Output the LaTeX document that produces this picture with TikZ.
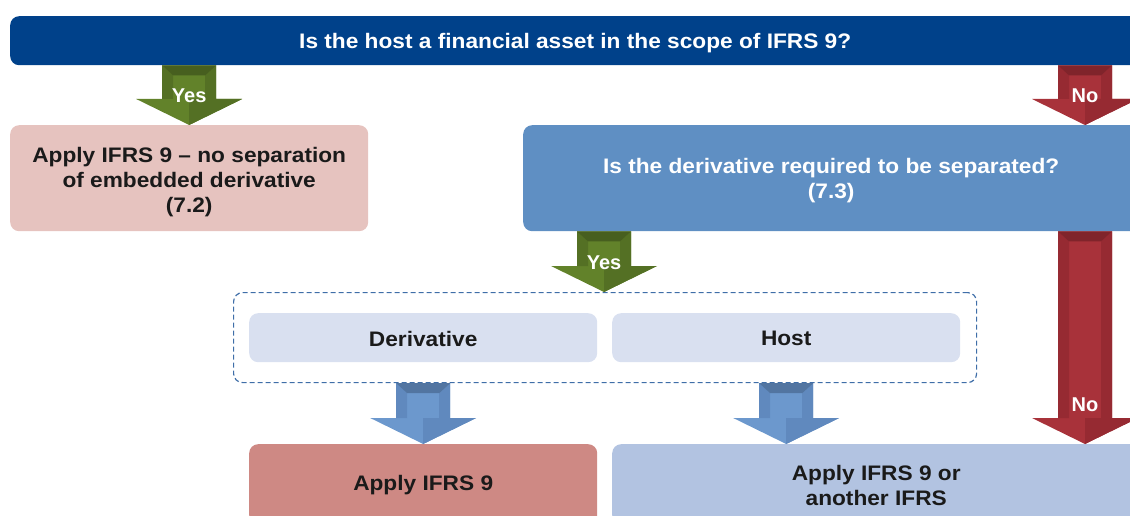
\documentclass[tikz,border=0pt]{standalone}
\usepackage{fontspec}
\setmainfont{Liberation Sans}[FakeStretch=1.08]
\newfontfamily\lblfont{Liberation Sans}
\usetikzlibrary{calc}
\definecolor{topblue}{RGB}{0,65,138}
\definecolor{qblue}{RGB}{95,143,195}
\definecolor{pinkbox}{RGB}{230,195,191}
\definecolor{redbox}{RGB}{206,137,132}
\definecolor{lightbox}{RGB}{217,224,240}
\definecolor{midbox}{RGB}{178,195,225}
\definecolor{dashblue}{RGB}{63,110,168}
\definecolor{txt}{RGB}{26,26,26}
\definecolor{gmain}{RGB}{98,130,42}
\definecolor{gdark}{RGB}{84,112,36}
\definecolor{rmain}{RGB}{168,50,58}
\definecolor{rdark}{RGB}{150,42,50}
\definecolor{bmain}{RGB}{108,152,205}
\definecolor{bdark}{RGB}{96,137,190}
% #1 main colour, #2 dark colour, #3 start, #4 tip, #5 label, #6 label lift
\newcommand\blockarr[6]{%
  \coordinate (@s) at (#3);
  \coordinate (@t) at (#4);
  \coordinate (@b) at ($(@t)+(0,-26)$);
  \coordinate (@c) at (@s |- @b);
  \fill[#1] ($(@s)+(-27,0)$) -- ($(@s)+(27,0)$) -- ($(@c)+(27,0)$) -- ($(@c)+(53,0)$)
      -- (@t) -- ($(@c)+(-53,0)$) -- ($(@c)+(-27,0)$) -- cycle;
  \fill[#2] ($(@s)+(-27,0)$) -- ($(@s)+(-16,10)$) -- ($(@c)+(-16,0)$) -- ($(@c)+(-27,0)$) -- cycle;
  \fill[#2] ($(@s)+(27,0)$) -- ($(@s)+(16,10)$) -- ($(@c)+(16,0)$) -- ($(@c)+(27,0)$) -- cycle;
  \fill[#2!85!black] ($(@s)+(-27,0)$) -- ($(@s)+(27,0)$) -- ($(@s)+(16,10)$) -- ($(@s)+(-16,10)$) -- cycle;
  \fill[#2] (@t) -- ($(@c)+(53,0)$) -- (@c) -- cycle;
  \node[lbl] at ($(@c)+(0,-#6)$) {#5};}
\begin{document}
\begin{tikzpicture}[x=1pt,y=-1pt,
  box/.style={rounded corners=9pt, inner sep=0pt, anchor=north west},
  tx/.style={inner sep=0pt, align=center, font=\bfseries\fontsize{21}{25}\selectfont, text=txt},
  lbl/.style={font=\lblfont\bfseries\fontsize{20}{24}\selectfont, text=white, inner sep=0pt}]
\useasboundingbox (0,0) rectangle (1130,516);
\clip (0,0) rectangle (1130,516);
% boxes
\node[box, fill=topblue, minimum width=1130, minimum height=49] (q1) at (10,16) {};
\node[tx, text=white] (q1t) at ($(q1.center)+(0,2)$) {Is the host a financial asset in the scope of IFRS 9?};
\node[box, fill=pinkbox, minimum width=358, minimum height=106] (no) at (10,125) {};
\node[tx] (not) at ($(no.center)+(0,4)$) {Apply IFRS 9 -- no separation\\of embedded derivative\\(7.2)};
\node[box, fill=qblue, minimum width=616, minimum height=106] (q2) at (523,125) {};
\node[tx, text=white] (q2t) at ($(q2.center)+(0,2)$) {Is the derivative required to be separated?\\(7.3)};
\node[box, draw=dashblue, line width=1.2pt, dash pattern=on 5pt off 3pt, minimum width=743, minimum height=90] (grp) at (233,292) {};
\node[box, fill=lightbox, minimum width=348, minimum height=49] (der) at (249,313) {};
\node[tx] (dert) at ($(der.center)+(0,1)$) {Derivative};
\node[box, fill=lightbox, minimum width=348, minimum height=49] (host) at (612,313) {};
\node[tx] (hostt) at ($(host.center)+(0,1)$) {Host};
\node[box, fill=redbox, minimum width=348, minimum height=80] (app) at (249,444) {};
\node[tx] (appt) at ($(app.center)+(0,1)$) {Apply IFRS 9};
\node[box, fill=midbox, minimum width=528, minimum height=80] (oth) at (612,444) {};
\node[tx] (otht) at ($(oth.center)+(0,1)$) {Apply IFRS 9 or\\another IFRS};
% connectors
\coordinate (rx) at (1085,0);
\coordinate (gx) at (604,0);
\blockarr{gmain}{gdark}{no.north |- q1.south}{no.north}{Yes}{3}
\blockarr{rmain}{rdark}{rx |- q1.south}{rx |- q2.north}{No}{3}
\blockarr{gmain}{gdark}{gx |- q2.south}{gx |- grp.north}{Yes}{3}
\blockarr{bmain}{bdark}{der.south |- grp.south}{der.south |- app.north}{}{3}
\blockarr{bmain}{bdark}{host.south |- grp.south}{host.south |- oth.north}{}{3}
\blockarr{rmain}{rdark}{rx |- q2.south}{rx |- oth.north}{No}{13}
\end{tikzpicture}
\end{document}
